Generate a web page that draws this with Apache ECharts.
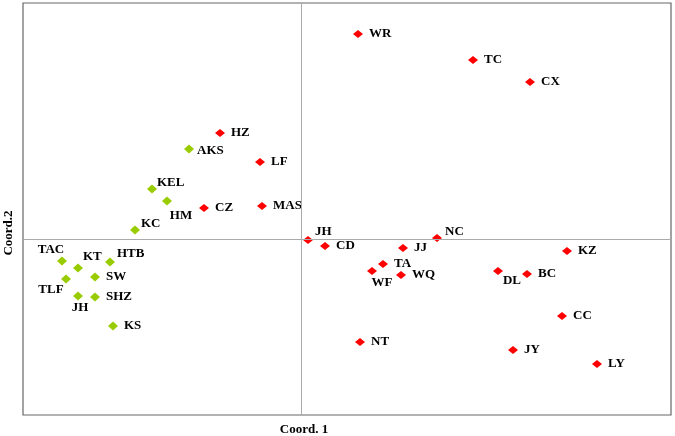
<!DOCTYPE html>
<html><head><meta charset="utf-8">
<script src="https://cdn.jsdelivr.net/npm/echarts@6/dist/echarts.min.js"></script>
<style>html,body{margin:0;padding:0;background:#fff}#c{width:675px;height:436px}</style>
</head><body><div id="c"></div>
<script>
// Group 1 (green)
const greenNames = ['AKS','KEL','HM','KC','TAC','KT','HTB','TLF','SW','JH','SHZ','KS'];
const greenX = [-1.12,-1.49,-1.34,-1.66,-2.39,-2.23,-1.91,-2.35,-2.06,-2.23,-2.06,-1.88];
const greenY = [0.90,0.50,0.38,0.09,-0.22,-0.29,-0.23,-0.40,-0.38,-0.57,-0.58,-0.87];
// Group 2 (red)
const redNames = ['HZ','LF','CZ','MAS','WR','TC','CX','JH','CD','JJ','NC','KZ','TA','WF','WQ','DL','BC','CC','NT','JY','LY'];
const redX = [-0.81,-0.41,-0.97,-0.39,0.57,1.72,2.29,0.07,0.24,1.02,1.36,2.66,0.82,0.71,1.00,1.97,2.26,2.61,0.59,2.12,2.96];
const redY = [1.06,0.77,0.31,0.33,2.05,1.79,1.57,-0.01,-0.07,-0.09,0.01,-0.12,-0.25,-0.32,-0.36,-0.32,-0.35,-0.77,-1.03,-1.11,-1.25];

// label placements (style only)
const greenLabelPos = {
  HM:['bottom',[14,1],3], TAC:['top',[-11,0],0], KT:['right',[-5,-11],5], HTB:['right',[-3,-8],5],
  TLF:['bottom',[-15,0],0], JH:['bottom',[2,-2],3], KEL:['right',[-5,-6],5], KC:['right',[-4,-6],5],
  AKS:['right',[-2,2],5]
};
const redLabelPos = {JH:['right',[-3,-8],5], NC:['right',[-2,-6],5], WF:['bottom',[10,-2],3], DL:['bottom',[14,-4],3]};

const lblStyle = {color:'#000',fontFamily:'Liberation Serif',fontWeight:'bold',fontSize:13};

function build(names, xs, ys, posMap){
  return names.map((n,i)=>{
    const p = posMap[n] || ['right',[1,0],5];
    return {value:[xs[i],ys[i]], name:n, label:{show:true, formatter:n, position:p[0], offset:p[1], distance:p[2], ...lblStyle}};
  });
}

const chart = echarts.init(document.getElementById('c'), null, {renderer:'canvas'});
chart.setOption({
  animation:false,
  backgroundColor:'#fff',
  grid:{left:23,right:4,top:3,bottom:21,show:true,borderColor:'#666',borderWidth:1.2,backgroundColor:'transparent',containLabel:false,outerBoundsMode:'none'},
  xAxis:{type:'value',min:-2.78,max:3.70,axisLine:{show:false},axisTick:{show:false},axisLabel:{show:false},splitLine:{show:false},
    name:'Coord. 1',nameLocation:'middle',nameGap:8,nameTextStyle:{color:'#000',fontFamily:'Liberation Serif',fontWeight:'bold',fontSize:13,padding:[0,86,0,0]}},
  yAxis:{type:'value',min:-1.76,max:2.36,axisLine:{show:false},axisTick:{show:false},axisLabel:{show:false},splitLine:{show:false},
    name:'Coord.2',nameLocation:'middle',nameGap:8,nameRotate:90,nameTextStyle:{color:'#000',fontFamily:'Liberation Serif',fontWeight:'bold',fontSize:13,padding:[0,48,0,0]}},
  series:[
    {type:'scatter',symbol:'diamond',symbolSize:[10,9],itemStyle:{color:'#99cc00',opacity:1},data:build(greenNames,greenX,greenY,greenLabelPos),
     markLine:{silent:true,symbol:'none',label:{show:false},lineStyle:{color:'#aaa',width:1,type:'solid'},data:[{xAxis:0},{yAxis:0}]}},
    {type:'scatter',symbol:'diamond',symbolSize:[10,8],itemStyle:{color:'#ff0000',opacity:1},data:build(redNames,redX,redY,redLabelPos)}
  ]
});
</script></body></html>
